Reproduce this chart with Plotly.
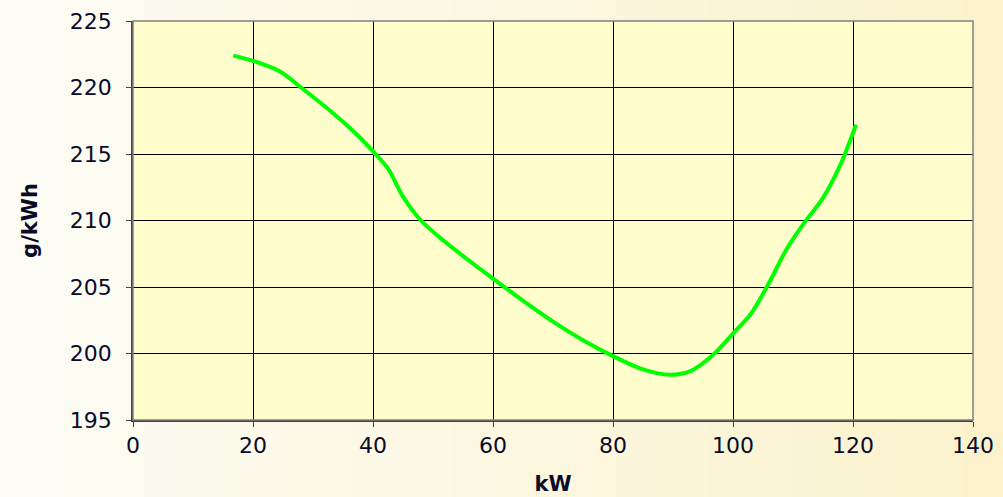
import plotly.graph_objects as go

kw = [16.7, 20, 24.5, 28, 33, 37, 40, 42.5, 45, 48, 52, 58, 64, 70, 75, 80, 85, 89.5,
      93, 96.7, 100, 103, 106, 109, 112, 115, 118, 120.5]
gkwh = [222.4, 222.0, 221.2, 220.0, 218.2, 216.6, 215.2, 213.9, 211.8, 210.0, 208.4, 206.3,
        204.3, 202.4, 201.0, 199.8, 198.8, 198.4, 198.7, 199.9, 201.5, 203.0, 205.3, 207.9,
        209.9, 211.7, 214.3, 217.2]
x_ticks = [0, 20, 40, 60, 80, 100, 120, 140]
y_ticks = [195, 200, 205, 210, 215, 220, 225]

fig = go.Figure()
fig.add_trace(go.Scatter(x=kw, y=gkwh, mode="lines",
                         line=dict(color="#00FF00", width=4, shape="spline", smoothing=0.9),
                         showlegend=False, hoverinfo="skip"))

# background gradient (paper) via strips
shapes = []
n = 60
x_start, x_end = -0.17, 1.05
c0 = (252, 252, 245)
c1 = (251, 242, 204)
for i in range(n):
    t = i / (n - 1)
    col = tuple(round(c0[k] + (c1[k] - c0[k]) * t) for k in range(3))
    xa = x_start + (x_end - x_start) * i / n
    xb = x_start + (x_end - x_start) * (i + 1) / n + 0.002
    shapes.append(dict(type="rect", xref="paper", yref="paper", x0=xa, x1=xb, y0=-0.25, y1=1.1,
                       fillcolor="rgb(%d,%d,%d)" % col, line=dict(width=0), layer="below"))
shapes.append(dict(type="rect", xref="paper", yref="paper", x0=0, x1=1, y0=0, y1=1,
                   fillcolor="#FFFDCC", line=dict(width=0), layer="below"))
# plot border top/right
shapes.append(dict(type="rect", xref="paper", yref="paper", x0=0, x1=1, y0=0, y1=1,
                   fillcolor="rgba(0,0,0,0)", line=dict(width=1.5, color="#808080"), layer="above"))

font_family = "DejaVu Sans, Verdana, sans-serif"
fig.update_layout(
    width=1003, height=497,
    margin=dict(l=133, r=30, t=21, b=77, autoexpand=False),
    paper_bgcolor="#FCF8E6",
    plot_bgcolor="rgba(0,0,0,0)",
    shapes=shapes,
    font=dict(family=font_family, color="#0A0A28", size=22),
    xaxis=dict(range=[0, 140], tickvals=x_ticks, ticks="outside", ticklen=5, tickcolor="#404040",
               showgrid=True, gridcolor="#000000", gridwidth=1, zeroline=False,
               showline=True, linecolor="#404040", linewidth=1.5, automargin=False,
               tickfont=dict(size=22),
               title=dict(text="<b>kW</b>", font=dict(size=21), standoff=19)),
    yaxis=dict(range=[195, 225], tickvals=y_ticks, ticks="outside", ticklen=5, tickcolor="#404040",
               showgrid=True, gridcolor="#000000", gridwidth=1, zeroline=False,
               showline=True, linecolor="#404040", linewidth=1.5, automargin=False,
               ticklabelstandoff=10,
               tickfont=dict(size=22),
               title=dict(text="<b>g/kWh</b>", font=dict(size=21), standoff=26)),
)

fig.write_html("out.html", config={"displayModeBar": False},
               post_script="document.body.style.margin='0';document.body.style.overflow='hidden';")
